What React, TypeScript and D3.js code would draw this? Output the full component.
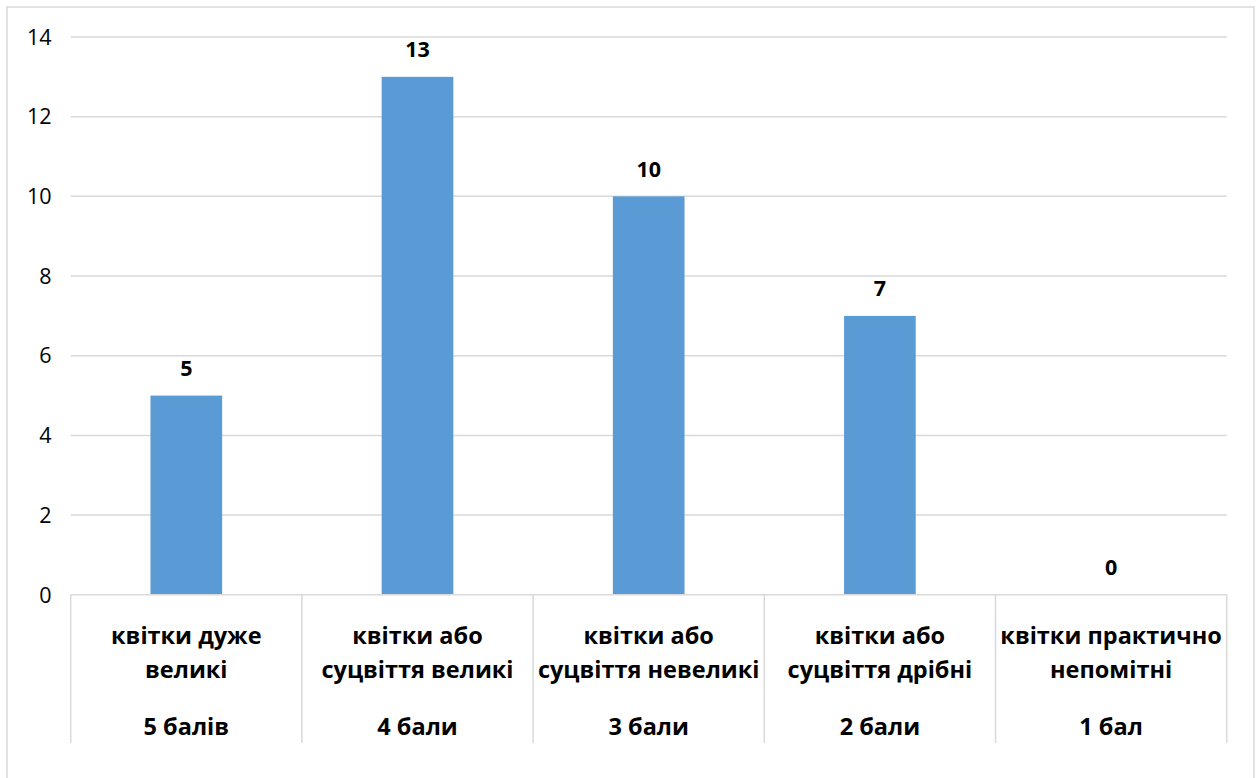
import React from "react";
import * as d3 from "d3";

const categories: string[][] = [
  ["квітки дуже", "великі"],
  ["квітки або", "суцвіття великі"],
  ["квітки або", "суцвіття невеликі"],
  ["квітки або", "суцвіття дрібні"],
  ["квітки практично", "непомітні"],
];
const scores: string[] = ["5 балів", "4 бали", "3 бали", "2 бали", "1 бал"];
const values: number[] = [5, 13, 10, 7, 0];
const yTicks: number[] = [0, 2, 4, 6, 8, 10, 12, 14];

const W = 1259;
const H = 778;
const left = 70.7;
const right = 1226.7;
const top = 37;
const bottom = 594.8;
const font = "'Open Sans', 'DejaVu Sans', sans-serif";

export default function App() {
  const idx = categories.map((_, i) => String(i));
  const x = d3.scaleBand<string>().domain(idx).range([left, right]).paddingInner(0).paddingOuter(0);
  const y = d3.scaleLinear().domain([0, 14]).range([bottom, top]);
  const bw = x.bandwidth() * 0.31;
  const grid = "#d9d9d9";
  return (
    <svg width={W} height={H} style={{ position: "absolute", left: 0, top: 0, background: "#fff" }} fontFamily={font}>
      <rect x={7} y={7} width={1247} height={790} fill="#fff" stroke="#d9d9d9" strokeWidth={1.5} />
      {yTicks.map((t) => (
        <g key={t}>
          {t > 0 && <line x1={left} x2={right} y1={y(t)} y2={y(t)} stroke={grid} strokeWidth={1.5} />}
          <text x={51.5} y={y(t)} dy="0.36em" textAnchor="end" fontSize={21.5} fill="#000">
            {t}
          </text>
        </g>
      ))}
      {values.map((v, i) => {
        const cx = (x(String(i)) as number) + x.bandwidth() / 2;
        return (
          <g key={i}>
            <rect x={cx - bw / 2} y={y(v)} width={bw} height={y(0) - y(v)} fill="#5b9bd5" />
            <text x={cx} y={y(v) - 27.4} dy="0.36em" textAnchor="middle" fontSize={21.5} fontWeight="bold" fill="#000">
              {v}
            </text>
          </g>
        );
      })}
      <line x1={left} x2={right} y1={y(0)} y2={y(0)} stroke={grid} strokeWidth={1.5} />
      {d3.range(categories.length + 1).map((i) => {
        const xx = i < categories.length ? (x(String(i)) as number) : right;
        return <line key={i} x1={xx} x2={xx} y1={y(0)} y2={743} stroke={grid} strokeWidth={1.5} />;
      })}
      {categories.map((lines, i) => {
        const cx = (x(String(i)) as number) + x.bandwidth() / 2;
        return (
          <g key={i} fontWeight="bold" fontSize={23.5} fill="#000" textAnchor="middle">
            <text x={cx} y={644}>{lines[0]}</text>
            <text x={cx} y={678}>{lines[1]}</text>
            <text x={cx} y={735}>{scores[i]}</text>
          </g>
        );
      })}
    </svg>
  );
}
